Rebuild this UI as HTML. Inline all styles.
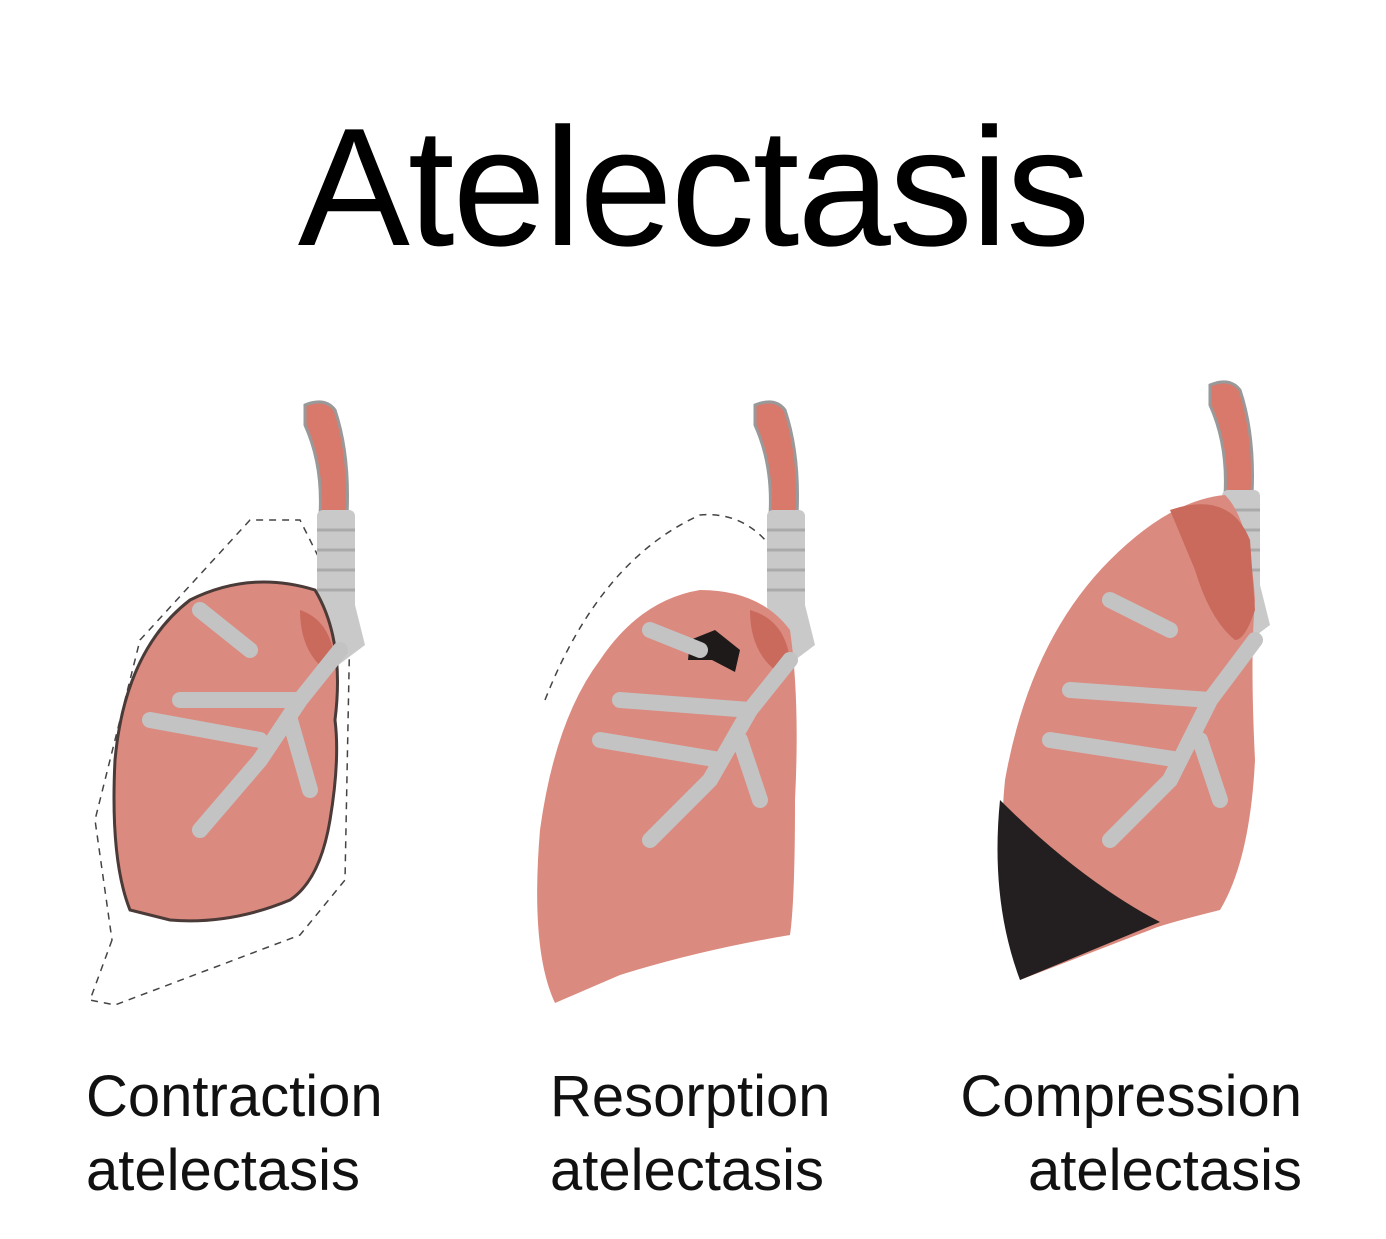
<!DOCTYPE html>
<html><head><meta charset="utf-8"><style>
html,body{margin:0;padding:0;background:#fff}
body{width:1386px;height:1239px;position:relative;overflow:hidden;font-family:"Liberation Sans",sans-serif}
.t{position:absolute;left:0;width:1386px;text-align:center;top:103px;font-size:168px;line-height:1;color:#000;letter-spacing:-2px}
.l{position:absolute;font-size:58px;line-height:74px;color:#111}
</style></head><body>
<svg width="1386" height="1239" style="position:absolute;left:0;top:0">
<defs>
<g id="tr">
<path d="M0,0 Q20,-8 30,5 Q45,50 42,110 L15,110 Q18,60 0,20 Z" fill="#d9796b" stroke="#999" stroke-width="3"/>
<rect x="12" y="105" width="38" height="100" rx="6" fill="#c9c9c9"/>
<g stroke="#aaa" stroke-width="3"><line x1="12" y1="125" x2="50" y2="125"/><line x1="12" y1="145" x2="50" y2="145"/><line x1="12" y1="165" x2="50" y2="165"/><line x1="12" y1="185" x2="50" y2="185"/></g>
<path d="M12,200 L50,200 L60,240 L20,270 Z" fill="#c9c9c9"/>
</g>
</defs>
<path d="M112,940 L90,1000 L115,1005 L300,935 L345,880 L350,620 L300,520 L250,520 L140,640 L95,820 Z" fill="none" stroke="#444" stroke-width="1.5" stroke-dasharray="7,6"/>
<use href="#tr" x="305" y="405"/>
<path d="M130,910 Q110,860 115,760 Q125,650 190,600 Q250,570 315,590 Q345,640 335,720 Q340,760 330,820 Q320,880 290,900 Q230,925 170,920 Z" fill="#db8a7f" stroke="#4a3a38" stroke-width="3"/>
<path d="M300,610 Q330,620 335,660 L325,670 Q300,650 300,610Z" fill="#c96a5c"/>
<path d="M340,650 L300,700 L260,760 L200,830 M300,700 L180,700 M260,740 L150,720 M250,650 L200,610 M290,720 L310,790" stroke="#c3c3c3" stroke-width="16" fill="none" stroke-linecap="round"/>
<path d="M545,700 Q600,560 700,515 Q760,510 790,580" fill="none" stroke="#444" stroke-width="1.5" stroke-dasharray="7,6"/>
<use href="#tr" x="755" y="405"/>
<path d="M555,1003 Q530,950 540,830 Q555,720 600,660 Q640,600 700,590 Q760,590 790,630 Q800,700 795,800 Q795,900 790,935 Q700,950 620,975 Z" fill="#db8a7f"/>
<path d="M750,610 Q785,620 790,660 L775,670 Q750,650 750,610Z" fill="#c96a5c"/>
<path d="M690,640 L715,630 L740,650 L735,672 L712,660 L688,660 Z" fill="#1e1a1a"/>
<path d="M790,660 L750,710 L710,780 L650,840 M750,710 L620,700 M720,760 L600,740 M700,650 L650,630 M740,740 L760,800" stroke="#c3c3c3" stroke-width="16" fill="none" stroke-linecap="round"/>
<use href="#tr" x="1210" y="385" />
<path d="M1020,980 Q995,880 1005,780 Q1030,640 1110,560 Q1170,500 1225,495 Q1250,520 1255,600 Q1250,660 1255,760 Q1250,860 1220,910 Q1160,925 1150,930 Z" fill="#db8a7f"/>
<path d="M1170,510 Q1230,490 1250,540 L1255,610 Q1245,640 1235,640 Q1210,620 1195,570 Z" fill="#c96a5c"/>
<path d="M1000,800 Q1080,880 1160,922 L1020,980 Q990,900 1000,800 Z" fill="#231f20"/>
<path d="M1255,640 L1210,700 L1170,780 L1110,840 M1210,700 L1070,690 M1180,760 L1050,740 M1170,630 L1110,600 M1200,740 L1220,800" stroke="#c3c3c3" stroke-width="16" fill="none" stroke-linecap="round"/>
</svg>
<div class="t">Atelectasis</div>
<div class="l" style="left:86px;top:1060px">Contraction<br>atelectasis</div>
<div class="l" style="left:550px;top:1060px">Resorption<br>atelectasis</div>
<div class="l" style="left:940px;top:1060px;text-align:right;width:362px">Compression<br>atelectasis</div>
</body></html>
